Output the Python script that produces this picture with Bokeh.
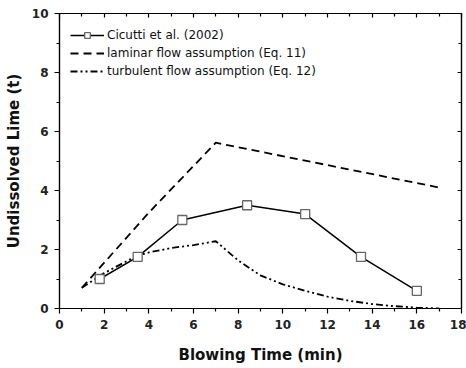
from bokeh.plotting import figure
from bokeh.models import Range1d, LinearAxis, Legend, LegendItem, FixedTicker
from bokeh.embed import file_html
from bokeh.resources import INLINE

# Data
cic_x = [1.8, 3.5, 5.5, 8.4, 11.0, 13.5, 16.0]
cic_y = [1.0, 1.75, 3.0, 3.5, 3.2, 1.75, 0.6]

lam_x = [1.0, 4.0, 7.0, 17.0]
lam_y = [0.7, 3.25, 5.62, 4.1]

tur_x = [1.0, 2.0, 3.0, 3.5, 4.0, 5.0, 6.0, 7.0, 8.0, 9.0, 10.0, 11.0, 12.0, 13.0, 14.0, 15.0, 16.0, 17.0]
tur_y = [0.7, 1.2, 1.6, 1.8, 1.9, 2.05, 2.15, 2.28, 1.63, 1.12, 0.82, 0.6, 0.4, 0.26, 0.15, 0.08, 0.03, 0.0]

x_ticks = [0, 2, 4, 6, 8, 10, 12, 14, 16, 18]
y_ticks = [0, 2, 4, 6, 8, 10]
x_minor = [1, 3, 5, 7, 9, 11, 13, 15, 17]
y_minor = [1, 3, 5, 7, 9]

FONT = "DejaVu Sans"

p = figure(width=466, height=368, output_backend="svg", toolbar_location=None,
           x_range=Range1d(0, 18), y_range=Range1d(0, 10),
           min_border_left=59, min_border_right=5, min_border_top=13, min_border_bottom=60)
p.grid.visible = False
p.outline_line_color = "black"
p.outline_line_width = 1.2
p.background_fill_color = "white"
p.border_fill_color = "white"

for ax, ticks, minor in ((p.xaxis[0], x_ticks, x_minor), (p.yaxis[0], y_ticks, y_minor)):
    ax.ticker = FixedTicker(ticks=ticks, minor_ticks=minor)
    ax.major_tick_out = 5
    ax.major_tick_in = 0
    ax.minor_tick_out = 3
    ax.minor_tick_in = 0
    ax.axis_line_width = 1.2
    ax.major_tick_line_width = 1.2
    ax.minor_tick_line_width = 1.2
    ax.major_label_text_font = FONT
    ax.major_label_text_font_style = "bold"
    ax.major_label_text_font_size = "12px"
    ax.major_label_text_color = "#222222"
    ax.axis_label_text_font = FONT
    ax.axis_label_text_font_style = "bold"
    ax.axis_label_text_font_size = "15px"
    ax.axis_label_text_color = "#111111"

p.xaxis.axis_label = "Blowing Time (min)"
p.yaxis.axis_label = "Undissolved Lime (t)"
p.xaxis.major_label_standoff = 6
p.yaxis.major_label_standoff = 6
p.xaxis.axis_label_standoff = 14
p.yaxis.axis_label_standoff = 6

# mirror axes (ticks only, pointing inward)
top = LinearAxis(ticker=FixedTicker(ticks=x_ticks, minor_ticks=x_minor),
                 major_label_overrides={t: "" for t in x_ticks},
                 major_tick_in=4, major_tick_out=0,
                 minor_tick_in=3, minor_tick_out=0, axis_line_width=1.2,
                 major_tick_line_width=1.2, minor_tick_line_width=1.2)
right = LinearAxis(ticker=FixedTicker(ticks=y_ticks, minor_ticks=y_minor),
                   major_label_overrides={t: "" for t in y_ticks},
                   major_tick_in=4, major_tick_out=0,
                   minor_tick_in=3, minor_tick_out=0, axis_line_width=1.2,
                   major_tick_line_width=1.2, minor_tick_line_width=1.2)
top.major_label_standoff = 0
right.major_label_standoff = 0
p.add_layout(top, "above")
p.add_layout(right, "right")

l_lam = p.line(lam_x, lam_y, line_color="black", line_width=1.8, line_dash="8 5")
l_tur = p.line(tur_x, tur_y, line_color="black", line_width=1.8, line_dash="7 3 2 3 2 3")
l_cic = p.line(cic_x, cic_y, line_color="black", line_width=1.5)
m_cic = p.scatter(cic_x, cic_y, marker="square", size=9, fill_color="white",
                  line_color="#666666", line_width=1.3)

legend = Legend(items=[
    LegendItem(label="Cicutti et al. (2002)", renderers=[l_cic, m_cic]),
    LegendItem(label="laminar flow assumption (Eq. 11)", renderers=[l_lam]),
    LegendItem(label="turbulent flow assumption (Eq. 12)", renderers=[l_tur]),
], location=(11, 230))
legend.border_line_color = None
legend.background_fill_alpha = 0
legend.label_text_font = FONT
legend.label_text_font_size = "12px"
legend.label_text_color = "#111111"
legend.glyph_width = 34
legend.glyph_height = 14
legend.label_height = 14
legend.spacing = 4
legend.padding = 0
legend.margin = 0
legend.label_standoff = 3
p.add_layout(legend)

open("out.html", "w").write(file_html(p, INLINE))
